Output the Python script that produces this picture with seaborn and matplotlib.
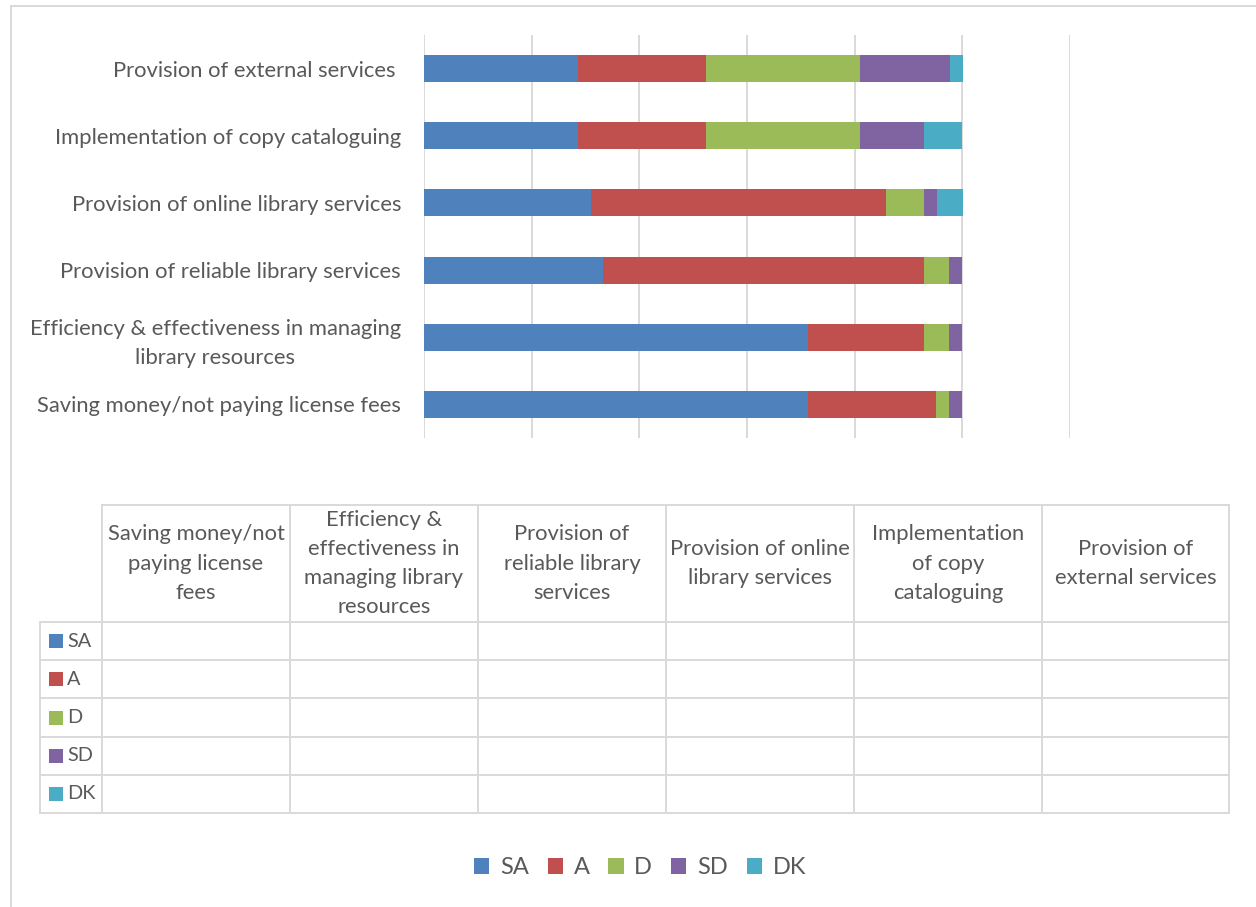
import matplotlib
matplotlib.use("Agg")
import matplotlib.pyplot as plt
from matplotlib.patches import Patch, Rectangle
import pandas as pd
import seaborn as sns

# Survey categories (bottom-to-top in the chart, left-to-right in the table)
categories = [
    "Saving money/not paying license fees",
    "Efficiency & effectiveness in managing library resources",
    "Provision of reliable library services",
    "Provision of online library services",
    "Implementation of copy cataloguing",
    "Provision of external services",
]
axis_labels = [
    "Saving money/not paying license fees",
    "Efficiency & effectiveness in managing\nlibrary resources",
    "Provision of reliable library services",
    "Provision of online library services",
    "Implementation of copy cataloguing",
    "Provision of external services ",
]
header_labels = [
    "Saving money/not\npaying license\nfees",
    "Efficiency &\neffectiveness in\nmanaging library\nresources",
    "Provision of\nreliable library\nservices",
    "Provision of online\nlibrary services",
    "Implementation\nof copy\ncataloguing",
    "Provision of\nexternal services",
]

# Response shares (%) per category
series_names = ["SA", "A", "D", "SD", "DK"]
sa = [71.4, 71.4, 33.3, 31.0, 28.6, 28.6]
a = [23.8, 21.4, 59.5, 54.8, 23.8, 23.8]
d = [2.4, 4.8, 4.8, 7.1, 28.6, 28.6]
sd = [2.4, 2.4, 2.4, 2.4, 11.9, 16.7]
dk = [0.0, 0.0, 0.0, 4.8, 7.1, 2.4]
series_values = [sa, a, d, sd, dk]
colors = ["#4F81BD", "#C0504D", "#9BBB59", "#8064A2", "#4BACC6"]

sns.set_theme(style="white")
plt.rcParams["font.family"] = ["Lato", "DejaVu Sans"]
TXT = "#595959"
GRID = "#D9D9D9"
FS = 15.8
LS = 1.57

W, H = 1256, 907
fig = plt.figure(figsize=(W / 100, H / 100), dpi=100)

# Overlay in pixel coordinates for the frame and the data table
ov = fig.add_axes([0, 0, 1, 1], zorder=0)
ov.set_xlim(0, W)
ov.set_ylim(H, 0)
ov.axis("off")
ov.patch.set_alpha(0)

# Main stacked bar chart
ax = fig.add_axes([424 / W, 1 - 438 / H, 646 / W, 403 / H], zorder=1)
ax.patch.set_alpha(0)

df = pd.DataFrame({"category": categories})
for name, vals in zip(series_names, series_values):
    df[name] = vals
order = categories[::-1]

# Stacked bars: draw cumulative totals from the full bar down to the first segment
for k in range(len(series_names), 0, -1):
    cum = df[series_names[:k]].sum(axis=1)
    sns.barplot(x=cum, y=df["category"], order=order, orient="h",
                color=colors[k - 1], width=0.4, linewidth=0,
                edgecolor="none", saturation=1, ax=ax, zorder=3)

ax.set_xlim(0, 120)
ax.set_xticks(range(0, 121, 20))
ax.set_xticklabels([])
ax.xaxis.grid(True, color=GRID, linewidth=1.4)
ax.yaxis.grid(False)
ax.set_axisbelow(True)
ax.set_xlabel("")
ax.set_ylabel("")
for s in ax.spines.values():
    s.set_visible(False)
ax.tick_params(axis="both", length=0)
ax.tick_params(axis="y", pad=16.5)
ax.set_yticks(range(len(order)))
ax.set_yticklabels(axis_labels[::-1], fontsize=FS, color=TXT)
for t in ax.get_yticklabels():
    t.set_multialignment("center")
    t.set_linespacing(LS)

# Outer frame (top and left edges)
ov.plot([11, W], [6, 6], color=GRID, lw=1.4)
ov.plot([11, 11], [6, H], color=GRID, lw=1.4)

# Data table grid
col_edges = [102, 290, 478, 666, 854, 1042, 1229]
key_left = 40
head_top = 505
row_top = 622
row_h = 38.2
row_edges = [row_top + i * row_h for i in range(len(series_names) + 1)]
tbl_kw = dict(color=GRID, lw=1.4, solid_capstyle="projecting")
ov.plot([col_edges[0], col_edges[-1]], [head_top, head_top], **tbl_kw)
for y in row_edges:
    ov.plot([key_left, col_edges[-1]], [y, y], **tbl_kw)
ov.plot([key_left, key_left], [row_top, row_edges[-1]], **tbl_kw)
for x in col_edges:
    ov.plot([x, x], [head_top, row_edges[-1]], **tbl_kw)

# Column headers
for i, lab in enumerate(header_labels):
    cx = (col_edges[i] + col_edges[i + 1]) / 2
    ov.text(cx, (head_top + row_top) / 2, lab, ha="center", va="center",
            fontsize=FS, color=TXT, linespacing=LS, multialignment="center")

# Row keys
for j, (name, col) in enumerate(zip(series_names, colors)):
    cy = row_edges[j] + row_h / 2
    ov.add_patch(Rectangle((49, cy - 7), 14, 14, facecolor=col, edgecolor="none"))
    ov.text(67, cy, name, ha="left", va="center", fontsize=FS - 1.5, color=TXT)

# Bottom legend
handles = [Patch(facecolor=c, edgecolor="none", label=n) for n, c in zip(series_names, colors)]
fig.legend(handles=handles, loc="center", bbox_to_anchor=(640 / W, 1 - 868 / H),
           ncol=5, frameon=False, fontsize=FS + 1.2, labelcolor=TXT,
           handlelength=0.65, handleheight=0.65, handletextpad=0.45, columnspacing=0.8)

fig.savefig("out.png", dpi=100, facecolor="white")
